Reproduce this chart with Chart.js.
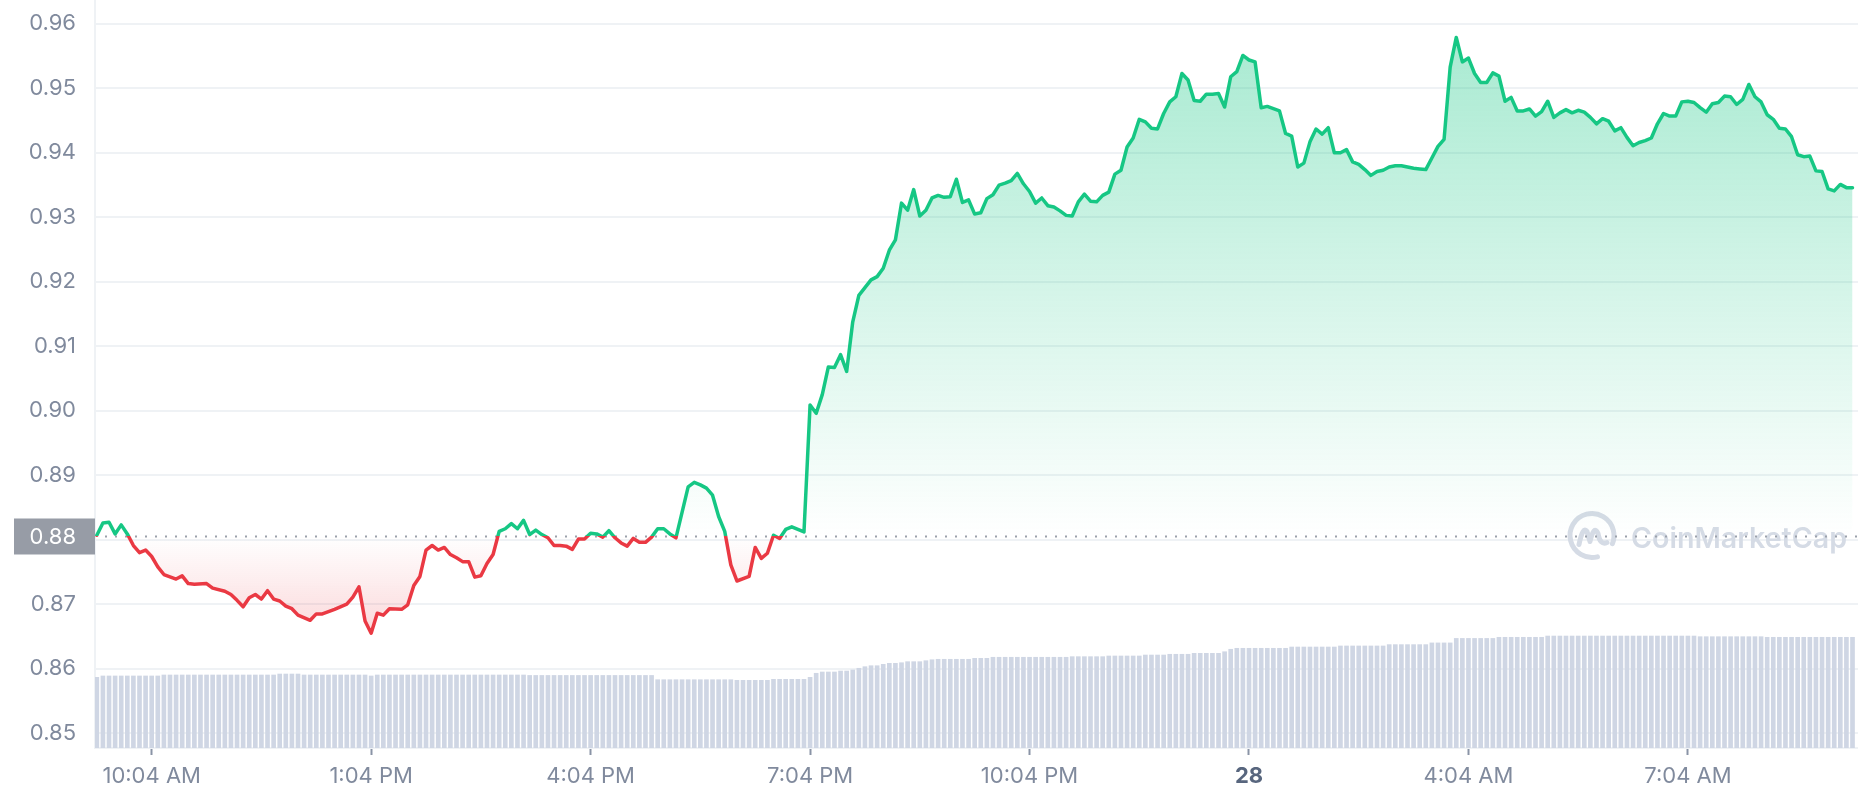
<!DOCTYPE html>
<html>
<head>
<meta charset="utf-8">
<title>Price chart</title>
<script src="https://cdn.jsdelivr.net/npm/chart.js@4.4.0/dist/chart.umd.min.js"></script>
<style>
  html, body { margin: 0; padding: 0; background: #fff; }
  canvas { display: block; }
</style>
</head>
<body>
<canvas id="priceChart" width="1858" height="800"></canvas>
<script>
// time of the first point, minutes after midnight (9:19 AM), one point every 5 minutes
const startMinute = 559;
const stepMinutes = 5;
const basePrice = 0.8805; // opening price, dotted line

const prices = [
    0.8807, 0.8826, 0.8827, 0.8809, 0.8823, 0.8809, 0.8791, 0.8780, 0.8784, 0.8774,
    0.8758, 0.8746, null, 0.8739, 0.8744, 0.8732, 0.8731, null, 0.8732, 0.8725,
    null, 0.8720, 0.8715, 0.8706, 0.8696, 0.8710, 0.8715, 0.8708, 0.8721, 0.8708,
    0.8705, 0.8697, 0.8693, 0.8683, null, 0.8675, 0.8685, 0.8685, null, 0.8692,
    null, 0.8700, 0.8711, 0.8727, 0.8674, 0.8655, 0.8686, 0.8683, 0.8693, null,
    0.8692, 0.8699, 0.8729, 0.8743, 0.8784, 0.8791, 0.8784, 0.8788, 0.8777, 0.8772,
    0.8766, 0.8766, 0.8742, 0.8744, 0.8763, 0.8777, 0.8813, 0.8817, 0.8825, 0.8817,
    0.8830, 0.8808, 0.8815, 0.8808, 0.8803, 0.8791, 0.8791, 0.8790, 0.8785, 0.8801,
    0.8801, 0.8810, 0.8809, 0.8804, 0.8814, 0.8803, 0.8795, 0.8790, 0.8802, 0.8796,
    0.8796, 0.8804, 0.8817, 0.8817, 0.8809, 0.8803, null, 0.8882, 0.8889, 0.8885,
    0.8880, 0.8869, 0.8836, 0.8813, 0.8761, 0.8736, null, 0.8743, 0.8788, 0.8771,
    0.8779, 0.8807, 0.8802, 0.8816, 0.8820, null, 0.8812, 0.9009, 0.8996, 0.9025,
    0.9068, 0.9067, 0.9087, 0.9061, 0.9138, 0.9179, 0.9191, 0.9203, 0.9208, 0.9221,
    0.9249, 0.9265, 0.9322, 0.9311, 0.9343, 0.9302, 0.9311, 0.9330, 0.9334, 0.9331,
    0.9332, 0.9359, 0.9323, 0.9327, 0.9305, 0.9307, 0.9329, 0.9335, 0.9350, 0.9353,
    0.9357, 0.9368, 0.9352, 0.9340, 0.9322, 0.9330, 0.9318, 0.9316, 0.9310, 0.9303,
    0.9302, 0.9324, 0.9336, 0.9325, 0.9324, 0.9334, 0.9339, 0.9367, 0.9373, 0.9409,
    0.9423, 0.9452, 0.9448, 0.9438, 0.9437, 0.9461, 0.9479, 0.9487, 0.9523, 0.9513,
    0.9481, 0.9480, 0.9491, 0.9491, 0.9492, 0.9471, 0.9518, 0.9526, 0.9551, 0.9544,
    0.9541, 0.9470, 0.9472, null, 0.9465, 0.9430, 0.9426, 0.9378, 0.9384, 0.9417,
    0.9437, 0.9429, 0.9439, 0.9400, 0.9400, 0.9405, 0.9386, 0.9382, 0.9374, 0.9365,
    0.9371, 0.9373, 0.9378, 0.9380, 0.9380, 0.9378, 0.9376, 0.9375, 0.9374, 0.9392,
    0.9410, 0.9421, 0.9533, 0.9579, 0.9541, 0.9547, 0.9523, 0.9509, 0.9509, 0.9524,
    0.9519, 0.9480, 0.9486, 0.9465, 0.9465, 0.9468, 0.9457, 0.9464, 0.9480, 0.9455,
    0.9462, 0.9467, 0.9462, 0.9466, 0.9463, 0.9455, 0.9445, 0.9453, 0.9449, 0.9434,
    0.9439, 0.9424, 0.9411, 0.9416, 0.9419, 0.9423, 0.9445, 0.9461, 0.9457, 0.9457,
    0.9479, 0.9480, 0.9478, 0.9470, 0.9463, 0.9476, 0.9478, 0.9488, 0.9487, 0.9475,
    0.9483, 0.9506, 0.9487, 0.9479, 0.9459, 0.9452, 0.9438, 0.9437, 0.9425, 0.9397,
    0.9394, 0.9395, 0.9372, 0.9371, 0.9344, 0.9341, 0.9351, 0.9346, 0.9346
];

// 24h volume, millions
const volumes = [
    9.45, 9.63, 9.63, 9.63, 9.63, 9.63, 9.63, 9.63, 9.63, 9.63,
    9.63, 9.76, 9.76, 9.76, 9.76, 9.76, 9.76, 9.76, 9.76, 9.76,
    9.76, 9.76, 9.76, 9.76, 9.76, 9.76, 9.76, 9.76, 9.76, 9.76,
    9.89, 9.89, 9.89, 9.89, 9.76, 9.76, 9.76, 9.76, 9.76, 9.76,
    9.76, 9.76, 9.76, 9.76, 9.76, 9.63, 9.76, 9.76, 9.76, 9.76,
    9.76, 9.76, 9.76, 9.76, 9.76, 9.76, 9.76, 9.76, 9.76, 9.76,
    9.76, 9.76, 9.76, 9.76, 9.76, 9.76, 9.76, 9.76, 9.76, 9.76,
    9.76, 9.70, 9.70, 9.70, 9.70, 9.70, 9.70, 9.70, 9.70, 9.70,
    9.70, 9.70, 9.70, 9.70, 9.70, 9.70, 9.70, 9.70, 9.70, 9.70,
    9.70, 9.70, 9.13, 9.13, 9.13, 9.13, 9.13, 9.13, 9.13, 9.13,
    9.13, 9.13, 9.13, 9.13, 9.13, 9.05, 9.05, 9.05, 9.05, 9.05,
    9.05, 9.18, 9.18, 9.18, 9.18, 9.18, 9.18, 9.45, 9.99, 10.16,
    10.16, 10.16, 10.29, 10.29, 10.43, 10.66, 10.87, 11.00, 11.00, 11.19,
    11.32, 11.32, 11.40, 11.54, 11.54, 11.54, 11.67, 11.80, 11.86, 11.86,
    11.86, 11.86, 11.86, 11.86, 11.99, 11.99, 11.99, 12.13, 12.13, 12.13,
    12.13, 12.13, 12.13, 12.13, 12.13, 12.13, 12.13, 12.13, 12.13, 12.13,
    12.21, 12.21, 12.21, 12.21, 12.21, 12.21, 12.30, 12.30, 12.30, 12.30,
    12.30, 12.30, 12.43, 12.43, 12.43, 12.43, 12.53, 12.53, 12.53, 12.53,
    12.66, 12.66, 12.66, 12.66, 12.66, 12.87, 13.20, 13.33, 13.33, 13.33,
    13.33, 13.33, 13.33, 13.33, 13.33, 13.33, 13.50, 13.50, 13.50, 13.50,
    13.50, 13.50, 13.50, 13.50, 13.64, 13.64, 13.64, 13.64, 13.64, 13.64,
    13.64, 13.64, 13.82, 13.82, 13.82, 13.82, 13.82, 13.82, 13.82, 14.05,
    14.05, 14.05, 14.05, 14.65, 14.65, 14.65, 14.65, 14.65, 14.65, 14.65,
    14.80, 14.80, 14.80, 14.80, 14.80, 14.80, 14.80, 14.80, 14.97, 14.97,
    14.97, 14.97, 14.97, 14.97, 14.97, 14.97, 14.97, 14.97, 14.97, 14.97,
    14.97, 14.97, 14.97, 14.97, 14.97, 14.97, 14.97, 14.97, 14.97, 14.97,
    14.97, 14.97, 14.97, 14.88, 14.88, 14.88, 14.88, 14.88, 14.88, 14.88,
    14.88, 14.88, 14.88, 14.88, 14.80, 14.80, 14.80, 14.80, 14.80, 14.80,
    14.80, 14.80, 14.80, 14.80, 14.80, 14.80, 14.80, 14.80, 14.80
];

const yTicks = [0.85, 0.86, 0.87, 0.88, 0.89, 0.90, 0.91, 0.92, 0.93, 0.94, 0.95, 0.96];
const xTickMinutes = [604, 784, 964, 1144, 1324, 1504, 1684, 1864];
const xTickLabels = ['10:04 AM', '1:04 PM', '4:04 PM', '7:04 PM', '10:04 PM', '28', '4:04 AM', '7:04 AM'];

const GREEN = '#16c784';
const RED = '#ea3943';
const LABEL = '#808a9d';
const GRID = '#eff2f5';

function timeOf(i) {
    return startMinute + i * stepMinutes;
}

// green above the opening price, red below
function lineColor(context) {
    const chart = context.chart;
    const area = chart.chartArea;
    if (!area) return GREEN;
    const y = chart.scales.y.getPixelForValue(basePrice);
    const stop = Math.min(1, Math.max(0, (y - area.top) / (area.bottom - area.top)));
    const g = chart.ctx.createLinearGradient(0, area.top, 0, area.bottom);
    g.addColorStop(0, GREEN);
    g.addColorStop(stop, GREEN);
    g.addColorStop(stop, RED);
    g.addColorStop(1, RED);
    return g;
}

function areaColor(context) {
    const chart = context.chart;
    if (!chart.chartArea) return 'rgba(22,199,132,0.1)';
    const scale = chart.scales.y;
    const top = scale.getPixelForValue(0.96);
    const base = scale.getPixelForValue(basePrice);
    const low = scale.getPixelForValue(0.865);
    const stop = (base - top) / (low - top);
    const g = chart.ctx.createLinearGradient(0, top, 0, low);
    g.addColorStop(0, 'rgba(22,199,132,0.38)');
    g.addColorStop(stop, 'rgba(22,199,132,0)');
    g.addColorStop(stop, 'rgba(234,57,67,0)');
    g.addColorStop(1, 'rgba(234,57,67,0.2)');
    return g;
}

function drawWatermark(ctx, area, py) {
    const cx = area.right - 266;
    const cy = py - 1;
    const r = 22;
    ctx.save();
    ctx.strokeStyle = '#d5dbe5';
    ctx.fillStyle = '#d5dbe5';
    ctx.lineWidth = 5;
    ctx.lineCap = 'round';
    ctx.lineJoin = 'round';
    ctx.beginPath();
    ctx.arc(cx, cy, r, 0.42 * Math.PI, 0.12 * Math.PI);
    ctx.stroke();
    ctx.beginPath();
    ctx.moveTo(cx - 13, cy + 9);
    ctx.quadraticCurveTo(cx - 9, cy - 10, cx - 5, cy - 4);
    ctx.lineTo(cx - 2, cy + 6);
    ctx.quadraticCurveTo(cx + 2, cy - 11, cx + 6, cy - 2);
    ctx.quadraticCurveTo(cx + 8, cy + 10, cx + 15, cy + 7);
    ctx.stroke();

    ctx.font = '600 32px Inter';
    const w = ctx.measureText('CoinMarketCap').width;
    const size = 32 * 216 / w;
    ctx.font = '600 ' + size.toFixed(1) + 'px Inter';
    ctx.textAlign = 'left';
    ctx.textBaseline = 'alphabetic';
    ctx.fillText('CoinMarketCap', cx + 39, cy + 13);
    ctx.restore();
}

const openPricePlugin = {
    id: 'openPrice',
    beforeDatasetsDraw(chart) {
        const { ctx, chartArea: area, scales } = chart;
        const py = scales.y.getPixelForValue(basePrice);
        drawWatermark(ctx, area, py);
        ctx.save();
        ctx.strokeStyle = '#9ba1ab';
        ctx.lineWidth = 2;
        ctx.setLineDash([2, 8]);
        ctx.beginPath();
        ctx.moveTo(area.left + 10, py);
        ctx.lineTo(area.right, py);
        ctx.stroke();
        ctx.restore();
    },
    afterDraw(chart) {
        const { ctx, chartArea: area, scales } = chart;
        const py = scales.y.getPixelForValue(basePrice);
        ctx.save();
        ctx.fillStyle = '#979ca6';
        ctx.fillRect(14, py - 18, area.left - 14, 36);
        ctx.fillStyle = '#ffffff';
        ctx.font = '22px Inter';
        ctx.textAlign = 'right';
        ctx.textBaseline = 'middle';
        ctx.fillText(basePrice.toFixed(2), area.left - 19, py + 1);
        ctx.restore();
    }
};

const ctx = document.getElementById('priceChart').getContext('2d');

new Chart(ctx, {
    type: 'line',
    data: {
        datasets: [{
            type: 'line',
            label: 'Price',
            data: prices.map((p, i) => ({ x: timeOf(i), y: p })),
            yAxisID: 'y',
            borderColor: lineColor,
            backgroundColor: areaColor,
            fill: { target: { value: basePrice } },
            borderWidth: 3.5,
            borderJoinStyle: 'round',
            borderCapStyle: 'round',
            pointRadius: 0,
            tension: 0,
            spanGaps: true,
            order: 1
        }, {
            type: 'bar',
            label: 'Volume',
            data: volumes.map((v, i) => ({ x: timeOf(i), y: v })),
            yAxisID: 'yVol',
            backgroundColor: '#cfd6e4',
            barThickness: 4,
            order: 2
        }]
    },
    options: {
        responsive: false,
        devicePixelRatio: 1,
        animation: false,
        events: [],
        layout: { padding: 0, autoPadding: false },
        plugins: {
            legend: { display: false },
            tooltip: { enabled: false }
        },
        scales: {
            x: {
                type: 'linear',
                min: 557.5,
                max: 2003.5,
                offset: false,
                afterBuildTicks: scale => {
                    scale.ticks = xTickMinutes.map(value => ({ value }));
                },
                afterFit: scale => {
                    scale.height = 52;
                    scale.paddingLeft = 0;
                    scale.paddingRight = 0;
                },
                grid: {
                    offset: false,
                    drawOnChartArea: false,
                    drawTicks: true,
                    tickLength: 7,
                    tickColor: '#8a94a6',
                    tickWidth: 2
                },
                border: { display: true, color: GRID, width: 2 },
                ticks: {
                    autoSkip: false,
                    maxRotation: 0,
                    padding: 8,
                    color: c => (c.tick && c.tick.label === '28') ? '#58667e' : LABEL,
                    font: c => ({
                        family: 'Inter',
                        size: 22,
                        weight: (c.tick && c.tick.label === '28') ? '700' : '400'
                    }),
                    callback: (value, index) => xTickLabels[index]
                }
            },
            y: {
                position: 'left',
                min: 0.8477,
                max: 0.9637,
                afterBuildTicks: scale => {
                    scale.ticks = yTicks.map(value => ({ value }));
                },
                afterFit: scale => {
                    scale.width = 95;
                    scale.paddingTop = 0;
                    scale.paddingBottom = 0;
                },
                grid: { color: GRID, lineWidth: 2, drawTicks: false },
                border: { display: true, color: GRID, width: 2 },
                ticks: {
                    padding: 19,
                    color: LABEL,
                    font: { family: 'Inter', size: 22 },
                    callback: value => value.toFixed(2)
                }
            },
            yVol: {
                display: false,
                min: 0,
                max: 100
            }
        }
    },
    plugins: [openPricePlugin]
});
</script>
</body>
</html>
